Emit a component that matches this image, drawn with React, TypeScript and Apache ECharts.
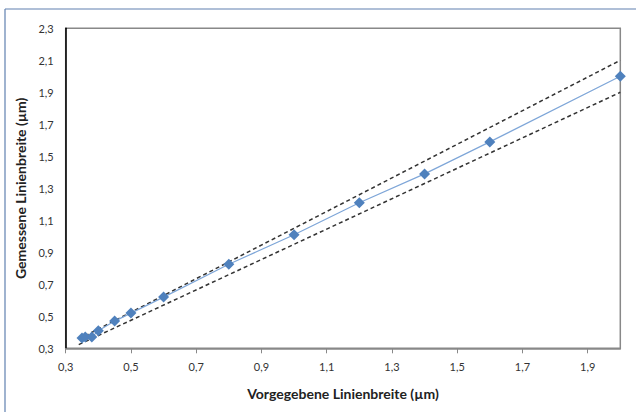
import React, { useEffect, useRef } from "react";
import * as echarts from "echarts";

const nominal = [0.35, 0.36, 0.38, 0.4, 0.45, 0.5, 0.6, 0.8, 1.0, 1.2, 1.4, 1.6, 2.0];
const measured = [0.365, 0.37, 0.37, 0.41, 0.47, 0.52, 0.62, 0.825, 1.01, 1.21, 1.39, 1.59, 2.0];
const upperBound = [[0.34, 0.357], [2.0, 2.1]];
const lowerBound = [[0.34, 0.323], [2.0, 1.9]];

const xTitle = "Vorgegebene Linienbreite (µm)";
const yTitle = "Gemessene Linienbreite (µm)";

const fmt = (v: number) => v.toFixed(1).replace(".", ",");

export default function App() {
  const ref = useRef<HTMLDivElement>(null);
  useEffect(() => {
    if (!ref.current) return;
    const chart = echarts.init(ref.current, null, { renderer: "svg" });
    const font = "Lato, 'Open Sans', sans-serif";
    chart.setOption({
      animation: false,
      backgroundColor: "#ffffff",
      textStyle: { fontFamily: font },
      grid: {
        left: 65.7,
        top: 28.3,
        width: 554.6,
        height: 320,
        show: true,
        borderColor: "#888888",
        borderWidth: 1.5,
      },
      xAxis: {
        type: "value",
        min: 0.3,
        max: 2.0,
        interval: 0.2,
        name: xTitle,
        nameLocation: "middle",
        nameGap: 38,
        nameTextStyle: { fontSize: 14, fontWeight: "bold", color: "#222", fontFamily: font },
        axisLine: { show: true, lineStyle: { color: "#888888", width: 1.5 } },
        axisTick: { show: true, length: 5, lineStyle: { color: "#888888" } },
        splitLine: { show: false },
        axisLabel: {
          formatter: (v: number) => fmt(v),
          fontSize: 11,
          color: "#333",
          margin: 13,
          showMaxLabel: false,
        },
      },
      yAxis: {
        type: "value",
        min: 0.3,
        max: 2.3,
        interval: 0.2,
        name: yTitle,
        nameLocation: "middle",
        nameGap: 37,
        nameRotate: 90,
        nameTextStyle: { fontSize: 14, fontWeight: "bold", color: "#222", fontFamily: font },
        axisLine: { show: true, lineStyle: { color: "#000000", width: 1.5 } },
        axisTick: { show: false },
        splitLine: { show: false },
        axisLabel: {
          formatter: (v: number) => fmt(v),
          fontSize: 11,
          color: "#333",
          margin: 12,
        },
      },
      graphic: [
        {
          type: "line",
          shape: { x1: 5, y1: 9, x2: 636, y2: 9 },
          style: { stroke: "#6080b0", lineWidth: 1.2 },
        },
        {
          type: "line",
          shape: { x1: 5, y1: 9, x2: 5, y2: 412 },
          style: { stroke: "#6080b0", lineWidth: 1.2 },
        },
      ],
      series: [
        {
          type: "line",
          data: upperBound,
          symbol: "none",
          lineStyle: { color: "#333333", width: 1.5, type: [4, 3] },
          z: 2,
        },
        {
          type: "line",
          data: lowerBound,
          symbol: "none",
          lineStyle: { color: "#333333", width: 1.5, type: [4, 3] },
          z: 2,
        },
        {
          type: "line",
          data: nominal.map((x, i) => [x, measured[i]]),
          symbol: "diamond",
          symbolSize: 11,
          itemStyle: { color: "#4f81bd" },
          lineStyle: { color: "#7ea6d8", width: 1.2 },
          z: 3,
        },
      ],
    });
    return () => chart.dispose();
  }, []);
  return <div ref={ref} style={{ width: 636, height: 412, position: "absolute", left: 0, top: 0 }} />;
}
